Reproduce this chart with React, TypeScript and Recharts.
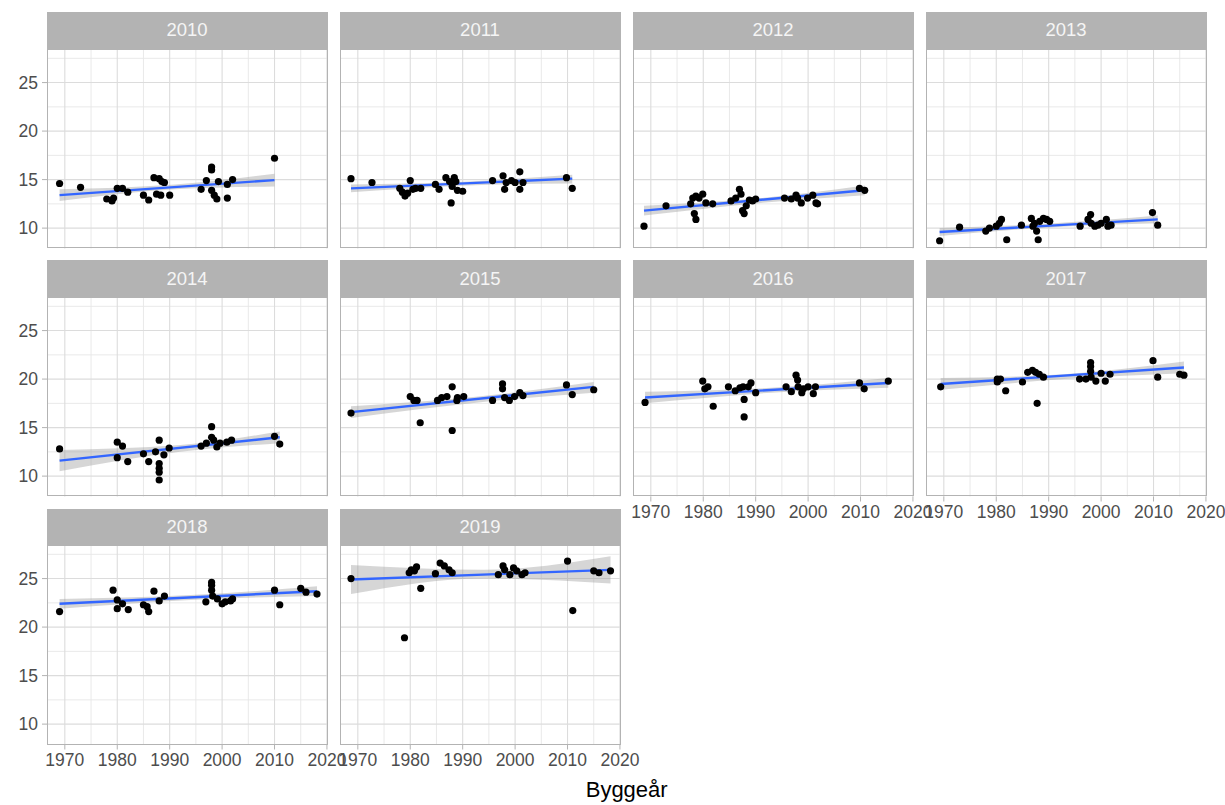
import {
  Area,
  CartesianGrid,
  ComposedChart,
  Line,
  Scatter,
  XAxis,
  YAxis,
} from "recharts";

// facet labels (one panel per year)
const years = ["2010", "2011", "2012", "2013", "2014", "2015", "2016", "2017", "2018", "2019"];

// [byggeår, value] per panel
const points2010 = [
  [1969, 14.6], [1973, 14.2], [1978, 13.0], [1979, 12.8], [1979.3, 13.1], [1980, 14.1],
  [1981, 14.1], [1982, 13.7], [1985, 13.4], [1986, 12.9], [1987, 15.2], [1988, 15.1],
  [1988.5, 14.8], [1987.5, 13.5], [1988.3, 13.4], [1989, 14.7], [1990, 13.4], [1996, 14.0],
  [1997, 14.9], [1998, 16.3], [1998, 16.0], [1998, 13.9], [1998.5, 13.4], [1999, 13.0],
  [1999.3, 14.8], [2001, 13.1], [2001, 14.5], [2002, 15.0], [2010, 17.2],
];
const points2011 = [
  [1968.7, 15.1], [1972.7, 14.7], [1978, 14.1], [1978.5, 13.7], [1979, 13.3], [1979.5, 13.6],
  [1980, 14.9], [1980.5, 14.0], [1981, 14.1], [1982, 14.1], [1984.8, 14.5], [1985.5, 14.0],
  [1986.8, 15.2], [1987.5, 14.8], [1988.4, 15.2], [1988.7, 14.8], [1989, 13.9], [1990, 13.8],
  [1988, 14.3], [1987.8, 12.6], [1995.7, 14.9], [1997.7, 15.4], [1998, 14.0], [1998.3, 14.7],
  [1999.3, 14.9], [2000, 14.7], [2000.9, 15.8], [2000.9, 14.0], [2001.5, 14.7], [2009.8, 15.2],
  [2010.9, 14.1],
];
const points2012 = [
  [1968.7, 10.2], [1972.9, 12.3], [1977.6, 12.5], [1978, 13.1], [1978.6, 13.3], [1979.2, 13.1],
  [1979.9, 13.5], [1978.3, 11.5], [1978.6, 10.9], [1980.5, 12.6], [1981.8, 12.5], [1985.3, 12.8],
  [1986.2, 13.1], [1986.9, 14.0], [1987.2, 13.5], [1987.5, 11.8], [1988.2, 12.3], [1987.8, 11.5],
  [1988.8, 12.9], [1989.4, 12.8], [1990, 13.0], [1995.5, 13.1], [1996.8, 13.0], [1997.7, 13.4],
  [1998, 13.1], [1998.7, 12.6], [1999.9, 13.1], [2000.9, 13.4], [2001.5, 12.6], [2001.8, 12.5],
  [2009.8, 14.1], [2010.8, 13.9],
];
const points2013 = [
  [1969.2, 8.7], [1973, 10.1], [1978, 9.7], [1978.7, 10.0], [1980, 10.2], [1980.6, 10.5],
  [1981, 10.9], [1982, 8.8], [1984.8, 10.3], [1986.7, 11.0], [1987, 10.2], [1987.3, 10.5],
  [1987.7, 9.7], [1988, 8.8], [1988.3, 10.7], [1989, 11.0], [1989.6, 10.9], [1990.2, 10.7],
  [1996, 10.2], [1997.5, 10.9], [1998, 11.4], [1998.1, 10.5], [1998.8, 10.2], [1999.4, 10.3],
  [2000, 10.5], [2001, 10.9], [2001.3, 10.2], [2001.9, 10.3], [2009.8, 11.6], [2010.8, 10.3],
];
const points2014 = [
  [1969, 12.8], [1980, 13.5], [1981, 13.1], [1980, 11.9], [1982, 11.5], [1985, 12.3],
  [1986, 11.5], [1987.3, 12.5], [1988, 13.7], [1988, 11.3], [1988, 10.8], [1988, 10.4],
  [1988, 9.6], [1988.9, 12.2], [1989.9, 12.9], [1996, 13.1], [1997, 13.4], [1998, 15.1],
  [1998, 14.0], [1998.4, 13.7], [1999, 13.0], [1999.6, 13.4], [2000.9, 13.5], [2001.8, 13.7],
  [2010, 14.1], [2011, 13.3],
];
const points2015 = [
  [1968.7, 16.5], [1980, 18.2], [1980.7, 17.8], [1981.3, 17.8], [1981.9, 15.5], [1985.2, 17.8],
  [1986, 18.1], [1987, 18.2], [1988, 19.2], [1988.9, 17.8], [1989, 18.1], [1990.2, 18.2],
  [1988, 14.7], [1995.7, 17.8], [1997.6, 19.5], [1997.6, 19.0], [1998, 18.1], [1998.9, 17.8],
  [1999.9, 18.2], [2000.9, 18.6], [2001.5, 18.3], [2009.8, 19.4], [2010.9, 18.4], [2015, 18.9],
];
const points2016 = [
  [1968.9, 17.6], [1979.9, 19.8], [1980.3, 19.0], [1980.9, 19.2], [1981.9, 17.2], [1984.8, 19.2],
  [1986.1, 18.8], [1987, 19.1], [1987.6, 19.2], [1988.6, 19.2], [1989.1, 19.6], [1987.8, 17.9],
  [1987.8, 16.1], [1990, 18.6], [1995.8, 19.2], [1996.8, 18.7], [1997.7, 20.4], [1998, 19.9],
  [1998.1, 19.2], [1998.8, 18.6], [1999.1, 19.0], [2000, 19.2], [2001, 18.5], [2001.4, 19.2],
  [2009.8, 19.6], [2010.7, 19.0], [2015.3, 19.8],
];
const points2017 = [
  [1969.4, 19.2], [1980.2, 20.0], [1980.8, 20.0], [1980.2, 19.7], [1981.8, 18.8], [1985, 19.7],
  [1986, 20.7], [1986.9, 20.9], [1987.5, 20.7], [1988.2, 20.5], [1989, 20.2], [1987.8, 17.5],
  [1995.9, 20.0], [1997.1, 20.0], [1998, 21.7], [1998, 21.3], [1998, 20.8], [1998.1, 20.2],
  [1999, 19.8], [2000, 20.6], [2000.8, 19.8], [2001.7, 20.5], [2009.9, 21.9], [2010.8, 20.2],
  [2015, 20.5], [2015.8, 20.4],
];
const points2018 = [
  [1969, 21.6], [1979.2, 23.8], [1980, 22.8], [1980, 21.9], [1981, 22.4], [1982.1, 21.8],
  [1985, 22.3], [1985.7, 22.1], [1986, 21.6], [1987, 23.7], [1988, 22.7], [1989, 23.2],
  [1996.9, 22.6], [1998, 24.6], [1998, 24.3], [1998, 23.8], [1998.2, 23.2], [1999.1, 22.9],
  [2000, 22.4], [2000.6, 22.6], [2001.6, 22.7], [2002, 22.9], [2010, 23.8], [2011, 22.3],
  [2015, 24.0], [2016, 23.6], [2018.1, 23.4],
];
const points2019 = [
  [1968.7, 25.0], [1978.9, 18.9], [1979.8, 25.6], [1980.2, 25.9], [1981.2, 26.2], [1980.8, 25.8],
  [1982, 24.0], [1984.8, 25.5], [1985.7, 26.6], [1986.5, 26.3], [1987.4, 25.9], [1988, 25.6],
  [1996.8, 25.4], [1997.7, 26.3], [1998, 25.9], [1999, 25.4], [1999.7, 26.1], [2000.3, 25.8],
  [2001.3, 25.4], [2001.9, 25.6], [2010, 26.8], [2011, 21.7], [2015, 25.8], [2016, 25.6],
  [2018.2, 25.8],
];
const pointsByPanel = [
  points2010, points2011, points2012, points2013, points2014,
  points2015, points2016, points2017, points2018, points2019,
];

// lm fit line: start / end of each panel
const fitStartX = [1969, 1968.7, 1968.7, 1969.2, 1969, 1968.7, 1968.9, 1969.4, 1969, 1968.7];
const fitEndX = [2010, 2010.9, 2010.8, 2010.8, 2011, 2015, 2015.3, 2015.8, 2018.1, 2018.2];
const fitStartY = [13.4, 14.1, 11.8, 9.6, 11.6, 16.6, 18.1, 19.5, 22.4, 24.9];
const fitEndY = [14.95, 15.1, 13.9, 10.9, 14.0, 19.2, 19.6, 21.2, 23.7, 25.9];

// confidence band: [start, middle, end]
const bandMidX = [1991, 1991, 1991, 1991, 1992, 1993, 1993, 1993, 1994, 1994];
const bandLo = [
  [12.8, 14.0, 14.3], [13.7, 14.4, 14.6], [11.3, 12.6, 13.4], [9.2, 10.1, 10.5], [10.5, 12.5, 13.4],
  [16.0, 17.6, 18.6], [17.5, 18.6, 19.1], [18.9, 20.0, 20.6], [21.9, 22.8, 23.2], [23.4, 25.0, 24.5],
];
const bandHi = [
  [14.0, 14.5, 15.6], [14.5, 14.8, 15.5], [12.3, 13.1, 14.4], [10.0, 10.5, 11.3], [12.7, 13.2, 14.6],
  [17.2, 18.2, 19.7], [18.7, 19.1, 20.1], [20.1, 20.5, 21.8], [22.9, 23.3, 24.2], [26.4, 25.9, 27.3],
];

const xMajor = [1970, 1980, 1990, 2000, 2010, 2020];
const xMinor = [1975, 1985, 1995, 2005, 2015];
const yMajor = [10, 15, 20, 25];
const yMinor = [12.5, 17.5, 22.5, 27.5];

const FONT = "'Liberation Sans', Arial, sans-serif";
const PLOT_W = 281;
const PLOT_H = 199.5;
const STRIP_H = 36.5;
const colX = [46.5, 339.5, 632.5, 925.5];
const rowTop = [12, 260.3, 508.6];
const AXIS_W = 45;
const AXIS_H = 30;
const RIGHT = 25;

const Dot = (props: any) => <circle cx={props.cx} cy={props.cy} r={3.6} fill="#000" />;

function Panel({ idx }: { idx: number }) {
  const col = idx % 4;
  const row = Math.floor(idx / 4);
  const showY = col === 0;
  const showX = row === 2 || (row === 1 && col >= 2);
  const left = colX[col];
  const top = rowTop[row];
  const plotTop = top + STRIP_H;

  const pts = pointsByPanel[idx].map(([x, y]) => ({ x, y }));
  const rows = [
    { x: fitStartX[idx], band: [bandLo[idx][0], bandHi[idx][0]], fit: fitStartY[idx] },
    { x: bandMidX[idx], band: [bandLo[idx][1], bandHi[idx][1]], fit: null },
    { x: fitEndX[idx], band: [bandLo[idx][2], bandHi[idx][2]], fit: fitEndY[idx] },
  ];

  const tick = { fontSize: 17.5, fill: "#4d4d4d", fontFamily: FONT };

  return (
    <>
      <div
        style={{
          position: "absolute",
          left,
          top,
          width: PLOT_W,
          height: STRIP_H,
          background: "#b3b3b3",
          color: "#f5f5f5",
          fontFamily: FONT,
          fontSize: 18.5,
          display: "flex",
          alignItems: "center",
          justifyContent: "center",
        }}
      >
        {years[idx]}
      </div>
      <div style={{ position: "absolute", left: left - AXIS_W, top: plotTop }}>
        <ComposedChart
          width={PLOT_W + AXIS_W + RIGHT}
          height={PLOT_H + AXIS_H}
          data={rows}
          margin={{
            top: 0,
            right: RIGHT,
            bottom: showX ? 0 : AXIS_H,
            left: showY ? 0 : AXIS_W,
          }}
        >
          <CartesianGrid
            verticalValues={xMinor}
            horizontalValues={yMinor}
            stroke="#e6e6e6"
            strokeWidth={0.9}
          />
          <CartesianGrid
            verticalValues={xMajor}
            horizontalValues={yMajor}
            stroke="#dcdcdc"
            strokeWidth={1.1}
          />
          <XAxis
            dataKey="x"
            type="number"
            domain={[1966.6, 2020.2]}
            ticks={xMajor}
            allowDataOverflow
            hide={!showX}
            height={AXIS_H}
            tick={tick}
            tickSize={5}
            tickMargin={4}
            tickLine={{ stroke: "#b3b3b3" }}
            axisLine={false}
            interval={0}
          />
          <YAxis
            dataKey="y"
            type="number"
            domain={[7.9, 28.46]}
            ticks={yMajor}
            allowDataOverflow
            hide={!showY}
            width={AXIS_W}
            tick={tick}
            tickSize={5}
            tickMargin={4}
            tickLine={{ stroke: "#b3b3b3" }}
            axisLine={false}
            interval={0}
          />
          <Area
            type="monotone"
            dataKey="band"
            fill="#999999"
            fillOpacity={0.4}
            stroke="none"
            isAnimationActive={false}
          />
          <Scatter data={pts} shape={Dot} isAnimationActive={false} />
          <Line
            type="linear"
            dataKey="fit"
            stroke="#3366FF"
            strokeWidth={2.4}
            dot={false}
            activeDot={false}
            connectNulls
            isAnimationActive={false}
          />
        </ComposedChart>
      </div>
      <div
        style={{
          position: "absolute",
          left,
          top: plotTop,
          width: PLOT_W,
          height: PLOT_H,
          border: "1px solid #b3b3b3",
          boxSizing: "border-box",
          pointerEvents: "none",
        }}
      />
    </>
  );
}

export default function App() {
  return (
    <div
      style={{
        position: "absolute",
        left: 0,
        top: 0,
        width: 1225,
        height: 805,
        background: "#fff",
        overflow: "hidden",
      }}
    >
      {years.map((_, i) => (
        <Panel key={i} idx={i} />
      ))}
      <div
        style={{
          position: "absolute",
          left: 526.7,
          top: 779.4,
          width: 200,
          textAlign: "center",
          fontFamily: FONT,
          fontSize: 22,
          lineHeight: "22px",
          color: "#000",
        }}
      >
        Byggeår
      </div>
    </div>
  );
}
